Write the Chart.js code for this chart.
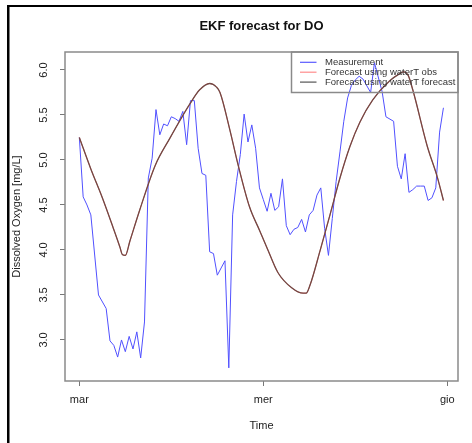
<!DOCTYPE html>
<html>
<head>
<meta charset="utf-8">
<script src="https://cdn.jsdelivr.net/npm/chart.js@4"></script>
<style>
  body { margin: 0; background: #fff; }
  #do-chart { display: block; }
</style>
</head>
<body>
<canvas id="do-chart" width="472" height="443"></canvas>
<script>
// axis ticks
let tickHours = [0, 24, 48];
let tickLabels = ["mar", "mer", "gio"];
let yTickValues = [3.0, 3.5, 4.0, 4.5, 5.0, 5.5, 6.0];

// measurement, hours from start of "mar"
let measHours = [0, 0.5, 1, 1.5, 2.5, 3.5, 4, 4.5, 5, 5.5, 6, 6.5, 7, 7.5, 8, 8.5,
  9, 9.5, 10, 10.5, 11, 11.5, 12, 12.5, 13, 13.5, 14, 14.5, 15, 15.5, 16, 16.5,
  17, 17.5, 18, 18.5, 19, 19.5, 20, 20.5, 21, 21.5, 22, 22.5, 23, 23.5, 24, 24.5,
  25, 25.5, 26, 26.5, 27, 27.5, 28, 28.5, 29, 29.5, 30, 30.5, 31, 31.5, 32, 32.5,
  33, 33.5, 34, 34.5, 35, 35.5, 36, 36.5, 37, 38, 38.5, 39.5, 40, 41, 41.5, 42,
  42.5, 43, 43.5, 44, 44.5, 45, 45.5, 46, 46.5, 47, 47.5];
let measDO = [5.25, 4.59, 4.50, 4.39, 3.50, 3.35, 2.99, 2.94, 2.81, 3.00, 2.87, 3.04, 2.90, 3.09, 2.80, 3.20,
  4.80, 5.02, 5.56, 5.28, 5.40, 5.38, 5.48, 5.46, 5.43, 5.54, 5.17, 5.66, 5.66, 5.13, 4.85, 4.83,
  3.98, 3.96, 3.72, 3.80, 3.88, 2.69, 4.39, 4.76, 5.06, 5.51, 5.20, 5.39, 5.13, 4.69, 4.56, 4.43,
  4.63, 4.44, 4.48, 4.79, 4.27, 4.17, 4.23, 4.25, 4.34, 4.20, 4.39, 4.44, 4.61, 4.69, 4.24, 3.94,
  4.35, 4.76, 5.09, 5.43, 5.69, 5.83, 5.89, 5.93, 5.90, 5.75, 6.08, 5.76, 5.48, 5.43, 4.93, 4.79,
  5.07, 4.64, 4.67, 4.71, 4.71, 4.71, 4.55, 4.58, 4.69, 5.31, 5.58];

// EKF forecasts
let foreHours = [0, 1.5, 3, 4.4, 5.3, 5.6, 6, 6.6, 7.9, 9.9, 11.8, 14.4, 15.7, 17, 17.9, 18.35,
  19.65, 20.7, 22.2, 23.5, 24.6, 25.9, 27.7, 29.2, 29.6, 30.1, 31.4, 32.7, 34, 35.3, 36.6,
  38.3, 40.5, 41.8, 42.3, 42.9, 43.5, 45.4, 46.7, 47.5];
let foreObsDO = [5.25, 4.90, 4.58, 4.25, 4.03, 3.95, 3.94, 4.10, 4.45, 4.94, 5.24, 5.62, 5.78, 5.85, 5.81, 5.75,
  5.33, 4.95, 4.48, 4.22, 4.00, 3.75, 3.58, 3.52, 3.52, 3.61, 3.99, 4.39, 4.80, 5.15, 5.42,
  5.67, 5.88, 5.96, 5.98, 5.94, 5.78, 5.15, 4.81, 4.55];
let foreFcDO = [5.25, 4.90, 4.58, 4.25, 4.03, 3.95, 3.94, 4.10, 4.45, 4.94, 5.24, 5.62, 5.78, 5.85, 5.81, 5.75,
  5.33, 4.95, 4.48, 4.22, 4.00, 3.75, 3.58, 3.52, 3.52, 3.61, 3.99, 4.39, 4.80, 5.15, 5.42,
  5.67, 5.88, 5.96, 5.98, 5.94, 5.78, 5.15, 4.81, 4.55];

let seriesNames = ["Measurement", "Forecast using waterT obs", "Forecast using waterT forecast"];
let legendColors = ["rgb(90, 90, 255)", "rgb(255, 140, 140)", "rgb(85, 85, 85)"];

Chart.defaults.font.family = "'Liberation Sans', Arial, sans-serif";

function toPoints(xs, ys) {
  return xs.map((x, i) => ({ x: x, y: ys[i] }));
}

// black frame of the screenshot + plot box + R style legend
let framePlugin = {
  id: "framePlugin",
  beforeDraw(chart) {
    let ctx = chart.ctx;
    ctx.save();
    ctx.fillStyle = "#000";
    ctx.fillRect(7, 5, 2.5, chart.height - 5);
    ctx.fillRect(7, 5, chart.width - 7, 2);
    ctx.restore();
  },
  afterDraw(chart) {
    let ctx = chart.ctx;
    let area = chart.chartArea;
    ctx.save();
    ctx.strokeStyle = "#8a8a8a";
    ctx.lineWidth = 1.5;
    ctx.strokeRect(area.left, area.top, area.right - area.left, area.bottom - area.top);

    // legend
    let boxLeft = area.right - 166.5;
    ctx.strokeRect(boxLeft, area.top, 166.5, 40.5);
    ctx.font = "9.5px 'Liberation Sans', Arial, sans-serif";
    ctx.textBaseline = "middle";
    ctx.lineWidth = 1.2;
    seriesNames.forEach((name, i) => {
      let y = area.top + 10.3 + i * 9.9;
      ctx.strokeStyle = legendColors[i];
      ctx.beginPath();
      ctx.moveTo(boxLeft + 8.5, y);
      ctx.lineTo(boxLeft + 25, y);
      ctx.stroke();
      ctx.fillStyle = "#333";
      ctx.fillText(name, boxLeft + 33.5, y);
    });
    ctx.restore();
  },
};

let doChart = new Chart("do-chart", {
  type: "line",
  data: {
    datasets: [
      {
        label: seriesNames[0],
        data: toPoints(measHours, measDO),
        borderColor: "rgb(80, 80, 255)",
        borderWidth: 1,
        pointRadius: 0,
        tension: 0,
        order: 3,
      },
      {
        label: seriesNames[1],
        data: toPoints(foreHours, foreObsDO),
        borderColor: "rgb(255, 90, 90)",
        borderWidth: 0.8,
        pointRadius: 0,
        cubicInterpolationMode: "monotone",
        order: 2,
      },
      {
        label: seriesNames[2],
        data: toPoints(foreHours, foreFcDO),
        borderColor: "rgb(112, 72, 68)",
        borderWidth: 1.3,
        pointRadius: 0,
        cubicInterpolationMode: "monotone",
        order: 1,
      },
    ],
  },
  options: {
    responsive: false,
    animation: false,
    layout: { padding: { left: 0, right: 14, top: 0, bottom: 0 } },
    plugins: {
      legend: { display: false },
      tooltip: { enabled: false },
      title: {
        display: true,
        text: "EKF forecast for DO",
        fullSize: false,
        color: "#111",
        font: { size: 13, weight: "bold" },
        padding: { top: 19, bottom: 17.4 },
      },
    },
    scales: {
      x: {
        type: "linear",
        min: -1.87,
        max: 49.4,
        afterBuildTicks: (scale) => {
          scale.ticks = tickHours.map((v) => ({ value: v }));
        },
        afterFit: (scale) => {
          scale.height = 62;
        },
        ticks: {
          callback: (value, index) => tickLabels[index],
          color: "#222",
          font: { size: 11 },
          padding: 7,
          autoSkip: false,
          maxRotation: 0,
        },
        grid: {
          drawOnChartArea: false,
          drawTicks: true,
          tickLength: 5,
          tickColor: "#777",
        },
        border: { display: false },
        title: {
          display: true,
          text: "Time",
          color: "#222",
          font: { size: 11 },
          padding: { top: 0, bottom: 10.7 },
        },
      },
      y: {
        type: "linear",
        min: 2.544,
        max: 6.2,
        afterBuildTicks: (scale) => {
          scale.ticks = yTickValues.map((v) => ({ value: v }));
        },
        afterFit: (scale) => {
          scale.width = 65;
        },
        ticks: {
          callback: (value) => value.toFixed(1),
          color: "#222",
          font: { size: 11 },
          padding: 8,
          minRotation: 90,
          maxRotation: 90,
          crossAlign: "center",
          autoSkip: false,
        },
        grid: {
          drawOnChartArea: false,
          drawTicks: true,
          tickLength: 5,
          tickColor: "#777",
        },
        border: { display: false },
        title: {
          display: true,
          text: "Dissolved Oxygen [mg/L]",
          color: "#222",
          font: { size: 11 },
          padding: { top: 10.7, bottom: 0 },
        },
      },
    },
  },
  plugins: [framePlugin],
});
</script>
</body>
</html>
